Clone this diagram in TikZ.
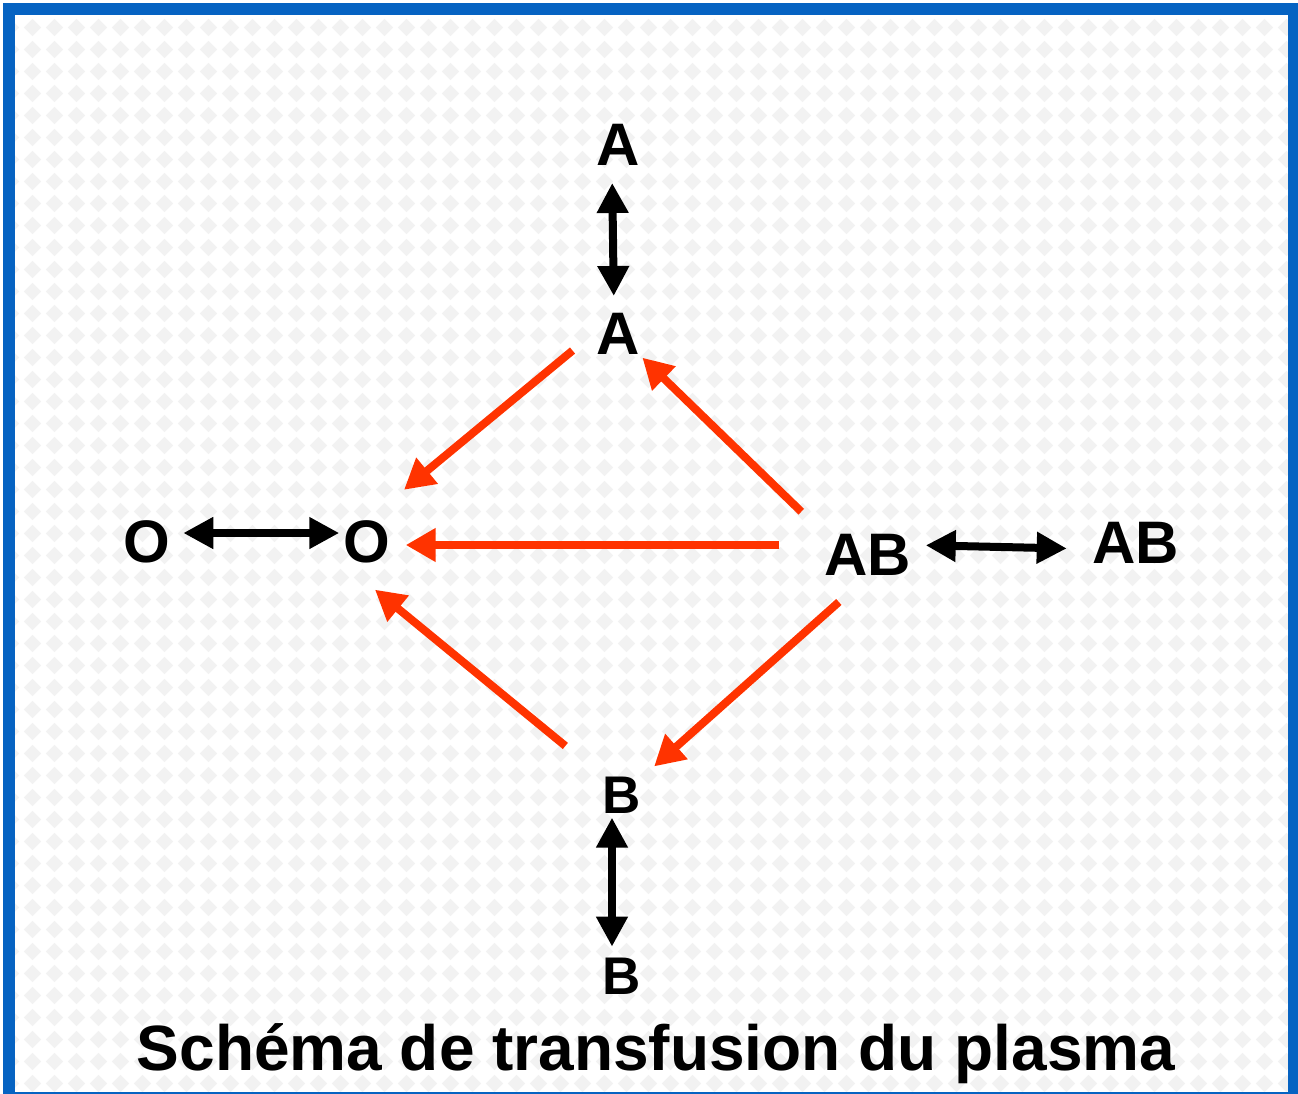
\documentclass[tikz,border=0pt]{standalone}
\usepackage{fontspec}
\setmainfont{Liberation Sans}
\usetikzlibrary{positioning}
\usetikzlibrary{arrows.meta,patterns}
\definecolor{frameblue}{RGB}{6,99,194}
\definecolor{tilegray}{RGB}{242,242,242}
\definecolor{plasmared}{RGB}{255,51,0}

\pgfdeclarepatternformonly{tiles}{\pgfqpoint{0pt}{0pt}}{\pgfqpoint{11pt}{11pt}}{\pgfqpoint{11pt}{11pt}}{%
  \pgfpathmoveto{\pgfqpoint{5.5pt}{1pt}}
  \pgfpathlineto{\pgfqpoint{10pt}{5.5pt}}
  \pgfpathlineto{\pgfqpoint{5.5pt}{10pt}}
  \pgfpathlineto{\pgfqpoint{1pt}{5.5pt}}
  \pgfpathclose
  \pgfusepathqfill}

\begin{document}
\begin{tikzpicture}[x=0.5pt,y=-0.5pt,
  grp/.style={inner sep=0pt,font=\fontsize{30}{36}\selectfont\bfseries},
  grpb/.style={grp,font=\fontsize{26.5}{32}\selectfont\bfseries},
  same/.style={line width=4pt,{Triangle[length=15pt,width=15pt]}-{Triangle[length=15pt,width=15pt]}},
  give/.style={line width=4pt,plasmared,-{Triangle[length=15pt,width=16pt]}}]

  % page, tiled background and frame
  \useasboundingbox (0,0) rectangle (1298,1094);
  \clip (0,0) rectangle (1298,1094);
  \fill[white] (0,0) rectangle (1298,1094);
  \fill[pattern=tiles,pattern color=tilegray] (15,15) rectangle (1298,1094);
  \draw[frameblue,line width=6pt] (9,9) rectangle (1294,1098);

  % recipients in the middle, donors of the same group outside
  \node[grp] (a2) at (618,334) {A};
  \node[grp] (o2) at (367,542) {O};
  \node[grp] (ab1) at (868,555) {AB};
  \node[grpb] (b1) at (622,795) {B};

  \node[grp, above=73.5pt of a2] (a1) {A};
  \node[grp, left=86.5pt of o2] (o1) {O};
  \node[grp, right=90pt of ab1, yshift=6pt] (ab2) {AB};
  \node[grpb, below=72pt of b1] (b2) {B};

  \node[font=\fontsize{32}{38}\selectfont\bfseries, anchor=base] (title) at (656,1070) {Schéma de transfusion du plasma};

  \draw[same,shorten <=8.5pt,shorten >=8.5pt] ([xshift=-3pt]a1.south) -- ([xshift=-2pt]a2.north);
  \draw[same,shorten <=6.5pt,shorten >=2pt] ([yshift=4.5pt]o1.east) -- ([yshift=4.5pt]o2.west);
  \draw[same,shorten <=7pt,shorten >=12.5pt] ([yshift=5pt]ab1.east) -- ([yshift=-3pt]ab2.west);
  \draw[same,shorten <=2pt,shorten >=5.5pt] ([xshift=-5pt]b1.south) -- ([xshift=-5pt]b2.north);

  \draw[give,shorten <=29.5pt,shorten >=24pt] (a2.north) -- (o2.north);
  \draw[give,shorten <=16pt,shorten >=17pt] (ab1.north west) -- (a2.center);
  \draw[give,shorten <=22.5pt,shorten >=7.5pt] ([yshift=5pt]ab1.west) -- ([yshift=-1.5pt]o2.east);
  \draw[give,shorten <=19.5pt,shorten >=21.5pt] (ab1.south) -- (b1.center);
  \draw[give,shorten <=24pt,shorten >=20.5pt] (b1.north west) -- (o2.south west);
\end{tikzpicture}
\end{document}
